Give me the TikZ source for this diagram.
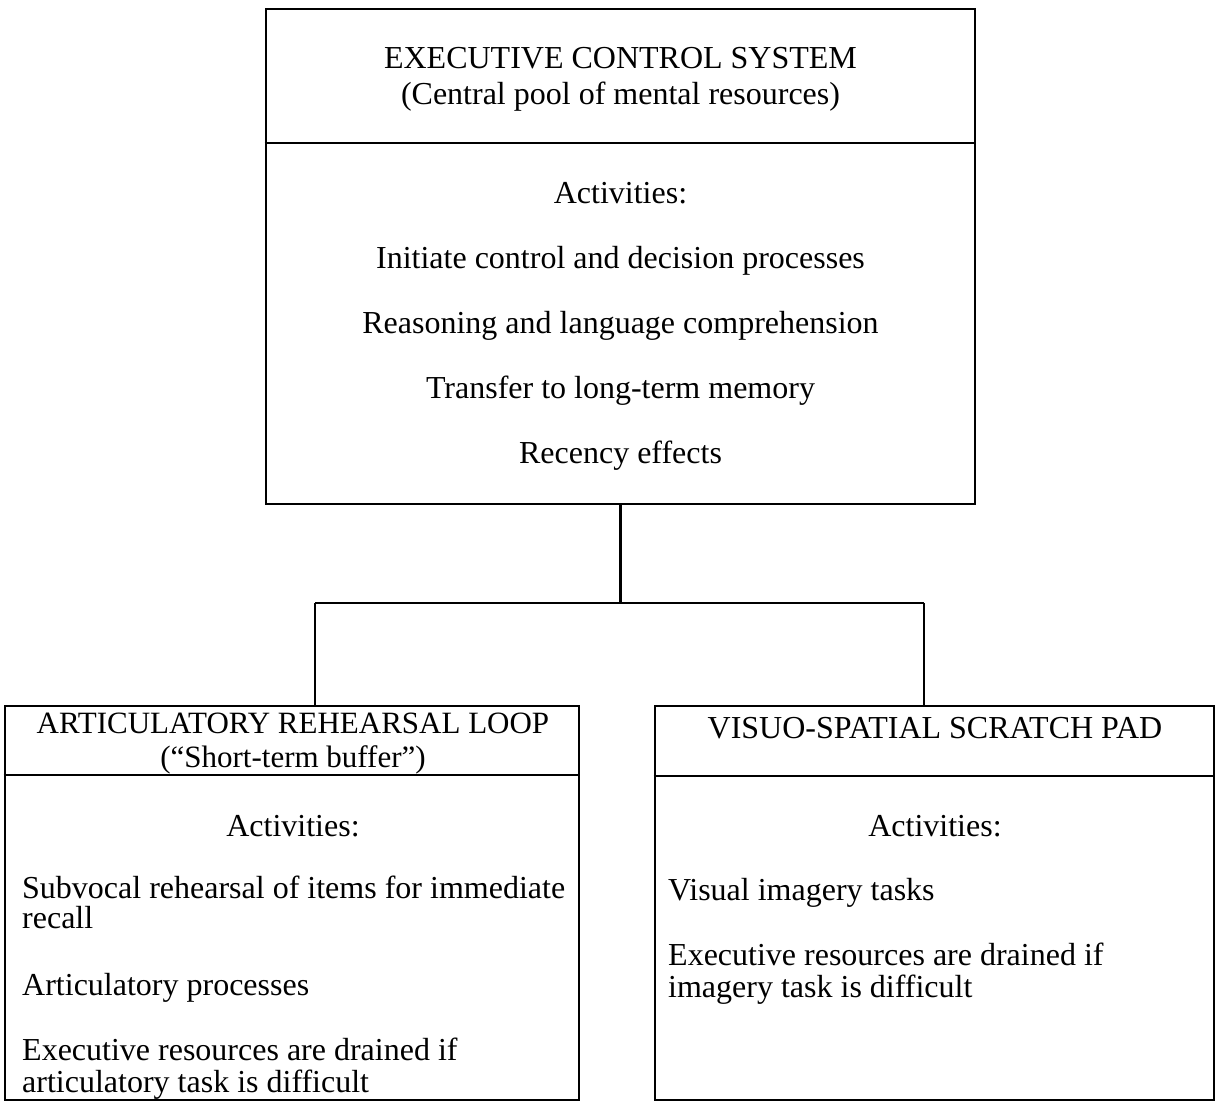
\documentclass[tikz,border=0pt]{standalone}
\usepackage{fontspec}
\setmainfont{Liberation Serif}
\begin{document}
\begin{tikzpicture}[x=1bp,y=-1bp,
  box/.style={draw, line width=2.8bp, inner sep=0pt},
  conn/.style={line width=2.6bp},
  txt/.style={inner sep=0pt, anchor=base, font=\fontsize{32bp}{35bp}\selectfont},
  stxt/.style={txt, font=\fontsize{31bp}{34bp}\selectfont},
  ltxt/.style={txt, anchor=base west}]
\useasboundingbox (0,0) rectangle (1222,1102);
% boxes
\node[box, minimum width=709bp, minimum height=495bp] (top) at (620.5,256.5) {};
\node[box, minimum width=574bp, minimum height=394bp] (arl) at (292,903) {};
\node[box, minimum width=559bp, minimum height=394bp] (vsp) at (934.5,903) {};
% dividers
\coordinate (d1) at (0,143);
\coordinate (d2) at (0,775);
\coordinate (d3) at (0,776);
\draw[conn] (top.west |- d1) -- (top.east |- d1);
\draw[conn] (arl.west |- d2) -- (arl.east |- d2);
\draw[conn] (vsp.west |- d3) -- (vsp.east |- d3);
% connectors
\coordinate (j) at (620.5,603);
\coordinate (jl) at (315,603);
\coordinate (jr) at (924,603);
\draw[conn] (top.south) -- (j);
\draw[conn] (jl) -- (jr);
\draw[conn] (jl) -- (jl |- arl.north);
\draw[conn] (jr) -- (jr |- vsp.north);
% top box text
\node[txt] (t1) at (620.5,68) {EXECUTIVE CONTROL SYSTEM};
\node[txt] (t2) at (620.5,104) {(Central pool of mental resources)};
\node[txt] (t3) at (620.5,203) {Activities:};
\node[txt] (t4) at (620.5,268) {Initiate control and decision processes};
\node[txt] (t5) at (620.5,333) {Reasoning and language comprehension};
\node[txt] (t6) at (620.5,398) {Transfer to long-term memory};
\node[txt] (t7) at (620.5,463) {Recency effects};
% left box text
\node[stxt] (a1) at (293,733) {ARTICULATORY REHEARSAL LOOP};
\node[stxt] (a2) at (293,767.5) {(“Short-term buffer”)};
\node[txt] (a3) at (293,836) {Activities:};
\node[ltxt] (a4) at (22,898) {Subvocal rehearsal of items for immediate};
\node[ltxt] (a5) at (22,928) {recall};
\node[ltxt] (a6) at (22,995) {Articulatory processes};
\node[ltxt] (a7) at (22,1060) {Executive resources are drained if};
\node[ltxt] (a8) at (22,1092) {articulatory task is difficult};
% right box text
\node[txt] (v1) at (935,738) {VISUO-SPATIAL SCRATCH PAD};
\node[txt] (v2) at (935,836) {Activities:};
\node[ltxt] (v3) at (668,900) {Visual imagery tasks};
\node[ltxt] (v4) at (668,965) {Executive resources are drained if};
\node[ltxt] (v5) at (668,997) {imagery task is difficult};
\end{tikzpicture}
\end{document}
